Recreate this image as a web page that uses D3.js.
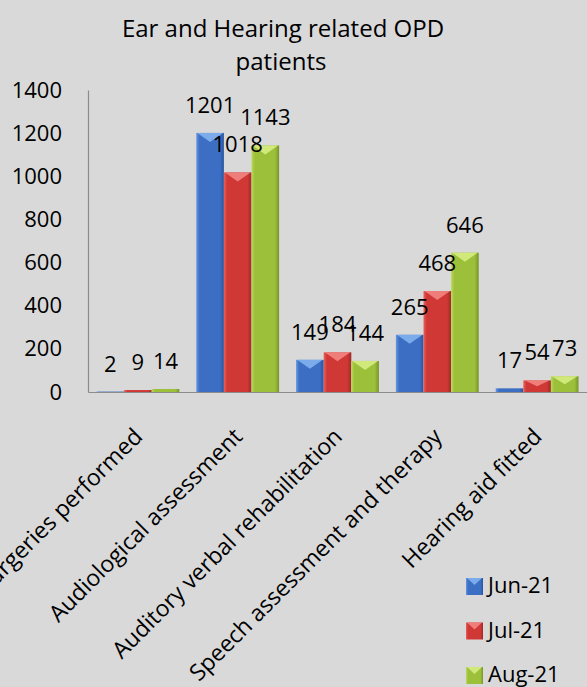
<!DOCTYPE html>
<html>
<head>
<meta charset="utf-8">
<script src="https://cdn.jsdelivr.net/npm/d3@7"></script>
<style>
  html, body { margin: 0; padding: 0; background: #d9d9d9; }
  svg { display: block; font-family: "Open Sans", sans-serif; }
  .tick-label, .value-label, .cat-label, .legend-label { font-size: 22px; fill: #000; }
  .title { font-size: 24px; fill: #000; }
</style>
</head>
<body>
<div id="chart"></div>
<script>
const categories = ['Surgeries performed', 'Audiological assessment', 'Auditory verbal rehabilitation', 'Speech assessment and therapy', 'Hearing aid fitted']
const seriesNames = ['Jun-21', 'Jul-21', 'Aug-21']
const jun21 = [2, 1201, 149, 265, 17]
const jul21 = [9, 1018, 184, 468, 54]
const aug21 = [14, 1143, 144, 646, 73]
const yTicks = [0, 200, 400, 600, 800, 1000, 1200, 1400]

const width = 587
const height = 687
const margin = {left: 88, top: 90, right: 0, bottom: 295}

// base, light edge, dark edge, bevel top
const palette = {
  'Jun-21': ['#3c6fc4', '#6596e0', '#2a559f', '#86b6f2'],
  'Jul-21': ['#cf3835', '#e8605c', '#9e2a27', '#f58a86'],
  'Aug-21': ['#9cc03a', '#bcd95c', '#76952a', '#dbef86']
}

const rows = categories.map((c, i) => ({cat: c, values: [jun21[i], jul21[i], aug21[i]]}))

const svg = d3.select('#chart')
.append('svg')
.attr('width', width)
.attr('height', height)

svg.append('rect').attr('width', width).attr('height', height).attr('fill', '#d9d9d9')

const defs = svg.append('defs')
seriesNames.forEach((s, i) => {
  const g = defs.append('linearGradient').attr('id', 'grad' + i).attr('x1', 0).attr('x2', 1).attr('y1', 0).attr('y2', 0)
  g.append('stop').attr('offset', '0%').attr('stop-color', palette[s][1])
  g.append('stop').attr('offset', '12%').attr('stop-color', palette[s][0])
  g.append('stop').attr('offset', '85%').attr('stop-color', palette[s][0])
  g.append('stop').attr('offset', '100%').attr('stop-color', palette[s][2])
})

const x0 = d3.scaleBand()
.domain(categories)
.range([margin.left, width - margin.right])

const x1 = d3.scaleBand()
.domain(seriesNames)
.range([x0.bandwidth() * 0.085, x0.bandwidth() * 0.915])

const y = d3.scaleLinear()
.domain([0, 1400])
.range([height - margin.bottom, margin.top])

// title
svg.append('text').attr('class', 'title')
.attr('x', 283).attr('y', 37).attr('text-anchor', 'middle')
.text('Ear and Hearing related OPD')
svg.append('text').attr('class', 'title')
.attr('x', 281).attr('y', 70).attr('text-anchor', 'middle')
.text('patients')

// y axis labels
const yAxis = svg.append('g')
.attr('transform', `translate(${margin.left},0)`)
.call(d3.axisLeft(y).tickValues(yTicks).tickFormat(d3.format('d')).tickSize(0).tickPadding(26))
yAxis.select('.domain').attr('stroke', '#8c8c8c').attr('stroke-width', 1.2)
yAxis.selectAll('text').attr('class', 'tick-label').style('font-size', '22px').style('font-family', '"Open Sans", sans-serif')

// bars
const groups = svg.selectAll('g.group')
.data(rows)
.enter()
.append('g')
.attr('class', 'group')
.attr('transform', d => `translate(${x0(d.cat)},0)`)

const bars = groups.selectAll('g.bar')
.data(d => d.values.map((v, i) => ({s: seriesNames[i], i: i, v: v})))
.enter()
.append('g')
.attr('class', 'bar')

bars.append('rect')
.attr('x', d => x1(d.s))
.attr('y', d => y(d.v))
.attr('width', x1.bandwidth())
.attr('height', d => y(0) - y(d.v))
.attr('fill', d => `url(#grad${d.i})`)

bars.filter(d => y(0) - y(d.v) > 4)
.append('path')
.attr('d', d => {
  const bx = x1(d.s), bw = x1.bandwidth(), top = y(d.v)
  const depth = Math.min(9, (y(0) - top) / 2)
  return `M${bx + 1},${top}L${bx + bw - 1},${top}L${bx + bw / 2},${top + depth}Z`
})
.attr('fill', d => palette[d.s][3])
.attr('opacity', 0.85)

// value labels
groups.selectAll('text.value-label')
.data(d => d.values.map((v, i) => ({s: seriesNames[i], v: v})))
.enter()
.append('text')
.attr('class', 'value-label')
.attr('text-anchor', 'middle')
.attr('x', d => x1(d.s) + x1.bandwidth() / 2)
.attr('y', d => y(d.v) - 20)
.text(d => d.v)

// x axis
const xAxis = svg.append('g')
.attr('transform', `translate(0,${y(0)})`)
.call(d3.axisBottom(x0).tickSize(0).tickPadding(0))
xAxis.select('.domain').attr('stroke', '#8c8c8c').attr('stroke-width', 1.2)
xAxis.selectAll('text')
.attr('class', 'cat-label')
.style('font-size', '23px')
.style('font-family', '"Open Sans", sans-serif')
.attr('text-anchor', 'end')
.attr('dy', 0)
.attr('transform', `translate(6,46) rotate(-45)`)

// legend
const legend = svg.append('g').attr('transform', 'translate(466,578)')
seriesNames.forEach((s, i) => {
  const g = legend.append('g').attr('transform', `translate(0,${i * 44.5})`)
  g.append('rect').attr('width', 17).attr('height', 17).attr('fill', `url(#grad${i})`)
  g.append('path').attr('d', 'M1,0L16,0L8.5,7Z').attr('fill', palette[s][3]).attr('opacity', 0.85)
  g.append('text').attr('class', 'legend-label').attr('x', 22).attr('y', 15).text(s)
})
</script>
</body>
</html>
